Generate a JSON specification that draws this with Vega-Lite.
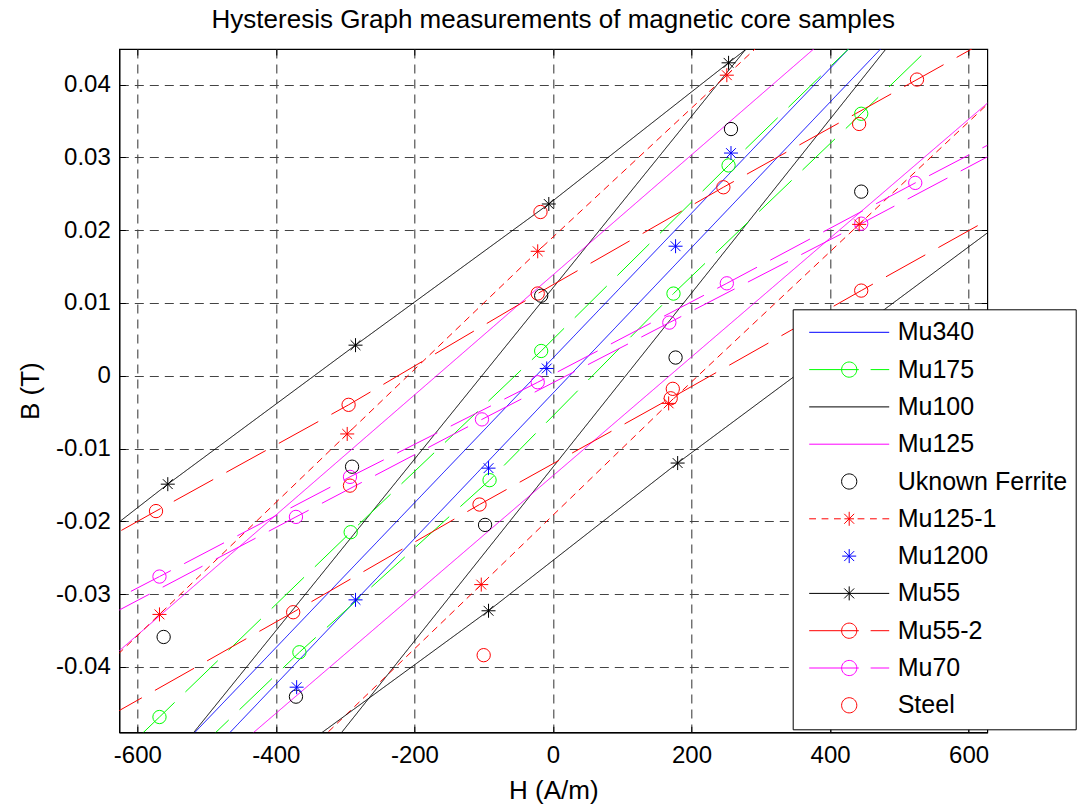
{
  "$schema": "https://vega.github.io/schema/vega-lite/v6.json",
  "autosize": {"type": "none"},
  "padding": {"left": 119.3, "top": 49, "right": 89.7, "bottom": 72.7},
  "width": 868,
  "height": 683.3,
  "background": "white",
  "title": {"text": "Hysteresis Graph measurements of magnetic core samples", "fontSize": 26, "font": "Liberation Sans", "fontWeight": "normal", "color": "black", "anchor": "middle", "offset": 16},
  "datasets": {
    "d": [
      {"s": "Mu340", "b": "A", "h": -560, "v": -0.0533},
      {"s": "Mu340", "b": "A", "h": 460, "v": 0.0482},
      {"s": "Mu340", "b": "B", "h": -520, "v": -0.0544},
      {"s": "Mu340", "b": "B", "h": 510, "v": 0.0486},
      {"s": "Mu100", "b": "A", "h": -560, "v": -0.0539},
      {"s": "Mu100", "b": "A", "h": 310, "v": 0.0486},
      {"s": "Mu100", "b": "B", "h": -340, "v": -0.0532},
      {"s": "Mu100", "b": "B", "h": 520, "v": 0.0496},
      {"s": "Mu125", "b": "A", "h": -700, "v": -0.0439},
      {"s": "Mu125", "b": "A", "h": 420, "v": 0.0485},
      {"s": "Mu125", "b": "B", "h": -460, "v": -0.0513},
      {"s": "Mu125", "b": "B", "h": 700, "v": 0.0434},
      {"s": "Mu175", "b": "U", "h": -843, "v": -0.072},
      {"s": "Mu175", "b": "U", "h": -568, "v": -0.0469},
      {"s": "Mu175", "b": "U", "h": -292, "v": -0.0215},
      {"s": "Mu175", "b": "U", "h": -17, "v": 0.0034},
      {"s": "Mu175", "b": "U", "h": 253.5, "v": 0.0289},
      {"s": "Mu175", "b": "U", "h": 525, "v": 0.054},
      {"s": "Mu175", "b": "L", "h": -640, "v": -0.063},
      {"s": "Mu175", "b": "L", "h": -366, "v": -0.038},
      {"s": "Mu175", "b": "L", "h": -91.5, "v": -0.01435},
      {"s": "Mu175", "b": "L", "h": 174, "v": 0.01129},
      {"s": "Mu175", "b": "L", "h": 445, "v": 0.036},
      {"s": "Mu175", "b": "L", "h": 716, "v": 0.061},
      {"s": "Mu125-1", "b": "U", "h": -840, "v": -0.0577},
      {"s": "Mu125-1", "b": "U", "h": -568, "v": -0.0328},
      {"s": "Mu125-1", "b": "U", "h": -297, "v": -0.008},
      {"s": "Mu125-1", "b": "U", "h": -22, "v": 0.0171},
      {"s": "Mu125-1", "b": "U", "h": 251, "v": 0.0413},
      {"s": "Mu125-1", "b": "U", "h": 525, "v": 0.0655},
      {"s": "Mu125-1", "b": "L", "h": -374, "v": -0.0535},
      {"s": "Mu125-1", "b": "L", "h": -103.5, "v": -0.0287},
      {"s": "Mu125-1", "b": "L", "h": 167, "v": -0.0038},
      {"s": "Mu125-1", "b": "L", "h": 442, "v": 0.0208},
      {"s": "Mu125-1", "b": "L", "h": 717, "v": 0.0453},
      {"s": "Mu55", "b": "U", "h": -830, "v": -0.0352},
      {"s": "Mu55", "b": "U", "h": -556, "v": -0.0149},
      {"s": "Mu55", "b": "U", "h": -285, "v": 0.0042},
      {"s": "Mu55", "b": "U", "h": -6, "v": 0.0236},
      {"s": "Mu55", "b": "U", "h": 253.5, "v": 0.043},
      {"s": "Mu55", "b": "U", "h": 525, "v": 0.063},
      {"s": "Mu55", "b": "L", "h": -366, "v": -0.0513},
      {"s": "Mu55", "b": "L", "h": -93, "v": -0.0323},
      {"s": "Mu55", "b": "L", "h": 180, "v": -0.012},
      {"s": "Mu55", "b": "L", "h": 453, "v": 0.0073},
      {"s": "Mu55", "b": "L", "h": 727, "v": 0.0267},
      {"s": "Mu55-2", "b": "U", "h": -850, "v": -0.0333},
      {"s": "Mu55-2", "b": "U", "h": -573, "v": -0.0186},
      {"s": "Mu55-2", "b": "U", "h": -295, "v": -0.004},
      {"s": "Mu55-2", "b": "U", "h": -22, "v": 0.0113},
      {"s": "Mu55-2", "b": "U", "h": 246, "v": 0.0259},
      {"s": "Mu55-2", "b": "U", "h": 525.5, "v": 0.0407},
      {"s": "Mu55-2", "b": "U", "h": 800, "v": 0.0553},
      {"s": "Mu55-2", "b": "L", "h": -650, "v": -0.0473},
      {"s": "Mu55-2", "b": "L", "h": -375, "v": -0.0325},
      {"s": "Mu55-2", "b": "L", "h": -106, "v": -0.0177},
      {"s": "Mu55-2", "b": "L", "h": 170, "v": -0.0031},
      {"s": "Mu55-2", "b": "L", "h": 445, "v": 0.0117},
      {"s": "Mu55-2", "b": "L", "h": 720, "v": 0.0263},
      {"s": "Mu70", "b": "U", "h": -840, "v": -0.041},
      {"s": "Mu70", "b": "U", "h": -568, "v": -0.0276},
      {"s": "Mu70", "b": "U", "h": -293, "v": -0.0139},
      {"s": "Mu70", "b": "U", "h": -22, "v": -0.0009},
      {"s": "Mu70", "b": "U", "h": 251, "v": 0.0127},
      {"s": "Mu70", "b": "U", "h": 523, "v": 0.0265},
      {"s": "Mu70", "b": "U", "h": 795, "v": 0.04},
      {"s": "Mu70", "b": "L", "h": -640, "v": -0.0329},
      {"s": "Mu70", "b": "L", "h": -371, "v": -0.0194},
      {"s": "Mu70", "b": "L", "h": -102.5, "v": -0.006},
      {"s": "Mu70", "b": "L", "h": 168, "v": 0.0073},
      {"s": "Mu70", "b": "L", "h": 445, "v": 0.0209},
      {"s": "Mu70", "b": "L", "h": 715, "v": 0.0345},
      {"s": "Uknown Ferrite", "b": "P", "h": -562, "v": -0.0359},
      {"s": "Uknown Ferrite", "b": "P", "h": -371, "v": -0.0441},
      {"s": "Uknown Ferrite", "b": "P", "h": -290, "v": -0.0125},
      {"s": "Uknown Ferrite", "b": "P", "h": -98, "v": -0.0205},
      {"s": "Uknown Ferrite", "b": "P", "h": -17, "v": 0.011},
      {"s": "Uknown Ferrite", "b": "P", "h": 177, "v": 0.0025},
      {"s": "Uknown Ferrite", "b": "P", "h": 257, "v": 0.0339},
      {"s": "Uknown Ferrite", "b": "P", "h": 445, "v": 0.0253},
      {"s": "Mu1200", "b": "P", "h": -370, "v": -0.0428},
      {"s": "Mu1200", "b": "P", "h": -285, "v": -0.0308},
      {"s": "Mu1200", "b": "P", "h": -93, "v": -0.0127},
      {"s": "Mu1200", "b": "P", "h": -9, "v": 0.001},
      {"s": "Mu1200", "b": "P", "h": 177, "v": 0.0178},
      {"s": "Mu1200", "b": "P", "h": 257, "v": 0.0306},
      {"s": "Steel", "b": "P", "h": -293, "v": -0.0151},
      {"s": "Steel", "b": "P", "h": -100, "v": -0.0384},
      {"s": "Steel", "b": "P", "h": -18, "v": 0.0225},
      {"s": "Steel", "b": "P", "h": 173, "v": -0.0018},
      {"s": "Steel", "b": "P", "h": 442, "v": 0.0346}
    ]
  },
  "data": {"name": "d"},
  "layer": [
    {
      "transform": [{"filter": {"field": "s", "oneOf": ["Mu340", "Mu100", "Mu125", "Mu175", "Mu125-1", "Mu55", "Mu55-2", "Mu70"]}}],
      "mark": {"type": "line", "clip": true, "strokeWidth": 1},
      "encoding": {
        "x": {"field": "h", "type": "quantitative", "scale": {"domain": [-626, 627], "nice": false, "zero": false},
          "axis": {"title": "H (A/m)", "values": [-600, -400, -200, 0, 200, 400, 600], "labelExpr": "replace(datum.label, '−', '-')", "labelPadding": 17, "titlePadding": 10}},
        "y": {"field": "v", "type": "quantitative", "scale": {"domain": [-0.049, 0.0449], "nice": false, "zero": false},
          "axis": {"title": "B (T)", "values": [-0.04, -0.03, -0.02, -0.01, 0, 0.01, 0.02, 0.03, 0.04], "format": ".2~f", "labelExpr": "replace(datum.label, '−', '-')", "labelPadding": 15, "titlePadding": 12}},
        "color": {"field": "s", "type": "nominal", "legend": null,
          "scale": {"domain": ["Mu340", "Mu175", "Mu100", "Mu125", "Uknown Ferrite", "Mu125-1", "Mu1200", "Mu55", "Mu55-2", "Mu70", "Steel"],
                    "range": ["#0000ff", "#00ff00", "#000000", "#ff00ff", "#000000", "#ff0000", "#0000ff", "#000000", "#ff0000", "#ff00ff", "#ff0000"]}},
        "strokeDash": {"field": "s", "type": "nominal", "legend": null,
          "scale": {"domain": ["Mu340", "Mu175", "Mu100", "Mu125", "Uknown Ferrite", "Mu125-1", "Mu1200", "Mu55", "Mu55-2", "Mu70", "Steel"],
                    "range": [[1, 0], [45, 15], [1, 0], [1, 0], [1, 0], [7, 5], [1, 0], [1, 0], [45, 15], [45, 15], [1, 0]]}},
        "detail": {"field": "b"},
        "order": {"field": "h", "type": "quantitative"}
      }
    },
    {
      "transform": [{"filter": {"field": "s", "oneOf": ["Mu175", "Mu55-2", "Mu70", "Uknown Ferrite", "Steel"]}}],
      "mark": {"type": "point", "shape": "circle", "filled": false, "size": 177, "strokeWidth": 1, "clip": true, "opacity": 1},
      "encoding": {
        "x": {"field": "h", "type": "quantitative", "scale": {"domain": [-626, 627], "nice": false, "zero": false}, "axis": null},
        "y": {"field": "v", "type": "quantitative", "scale": {"domain": [-0.049, 0.0449], "nice": false, "zero": false}, "axis": null},
        "color": {"field": "s", "type": "nominal", "legend": null}
      }
    },
    {
      "transform": [{"filter": {"field": "s", "oneOf": ["Mu125-1", "Mu55", "Mu1200"]}}],
      "mark": {"type": "point", "shape": "M-1,0L1,0M0,-1L0,1M-0.7,-0.7L0.7,0.7M-0.7,0.7L0.7,-0.7", "filled": false, "size": 196, "strokeWidth": 1, "clip": true, "opacity": 1},
      "encoding": {
        "x": {"field": "h", "type": "quantitative", "scale": {"domain": [-626, 627], "nice": false, "zero": false}, "axis": null},
        "y": {"field": "v", "type": "quantitative", "scale": {"domain": [-0.049, 0.0449], "nice": false, "zero": false}, "axis": null},
        "color": {"field": "s", "type": "nominal", "legend": null}
      }
    },
    {
      "mark": {"type": "point", "filled": false, "opacity": 0, "clip": true},
      "encoding": {
        "x": {"field": "h", "type": "quantitative", "scale": {"domain": [-626, 627], "nice": false, "zero": false},
          "axis": {"orient": "top", "values": [-600, -400, -200, 0, 200, 400, 600], "labels": false, "grid": false, "domain": false, "title": null}},
        "y": {"field": "v", "type": "quantitative", "scale": {"domain": [-0.049, 0.0449], "nice": false, "zero": false},
          "axis": {"orient": "right", "values": [-0.04, -0.03, -0.02, -0.01, 0, 0.01, 0.02, 0.03, 0.04], "labels": false, "grid": false, "domain": false, "title": null}},
        "color": {"field": "s", "type": "nominal",
          "legend": {"orient": "none", "legendX": 673.4, "legendY": 260.3, "title": null, "symbolSize": 6400, "symbolStrokeWidth": 1, "symbolOpacity": 1, "clipHeight": 30, "rowPadding": 7.3, "padding": 8, "symbolOffset": 8, "labelOffset": 8, "labelFontSize": 25, "labelFont": "Liberation Sans", "labelColor": "black", "strokeColor": "black", "fillColor": "white", "labelExpr": "datum.label + '        '", "labelLimit": 400}},
        "shape": {"field": "s", "type": "nominal",
          "scale": {"domain": ["Mu340", "Mu175", "Mu100", "Mu125", "Uknown Ferrite", "Mu125-1", "Mu1200", "Mu55", "Mu55-2", "Mu70", "Steel"],
                    "range": [
                      "M-1,0L1,0",
                      "M-1,0L0.24,0M0.536,0L1,0M-0.19,0A0.19,0.19,0,1,1,0.19,0A0.19,0.19,0,1,1,-0.19,0",
                      "M-1,0L1,0",
                      "M-1,0L1,0",
                      "M-0.19,0A0.19,0.19,0,1,1,0.19,0A0.19,0.19,0,1,1,-0.19,0",
                      "M-1,0L-0.83,0M-0.69,0L-0.52,0M-0.38,0L-0.21,0M-0.12,0L0.12,0M0.21,0L0.38,0M0.52,0L0.69,0M0.83,0L1,0M0,-0.175L0,0.175M-0.124,-0.124L0.124,0.124M-0.124,0.124L0.124,-0.124",
                      "M-0.175,0L0.175,0M0,-0.175L0,0.175M-0.124,-0.124L0.124,0.124M-0.124,0.124L0.124,-0.124",
                      "M-1,0L1,0M0,-0.175L0,0.175M-0.124,-0.124L0.124,0.124M-0.124,0.124L0.124,-0.124",
                      "M-1,0L0.24,0M0.536,0L1,0M-0.19,0A0.19,0.19,0,1,1,0.19,0A0.19,0.19,0,1,1,-0.19,0",
                      "M-1,0L0.24,0M0.536,0L1,0M-0.19,0A0.19,0.19,0,1,1,0.19,0A0.19,0.19,0,1,1,-0.19,0",
                      "M-0.19,0A0.19,0.19,0,1,1,0.19,0A0.19,0.19,0,1,1,-0.19,0"
                    ]},
          "legend": {"orient": "none", "legendX": 673.4, "legendY": 260.3, "title": null, "symbolSize": 6400, "symbolStrokeWidth": 1, "symbolOpacity": 1, "clipHeight": 30, "rowPadding": 7.3, "padding": 8, "symbolOffset": 8, "labelOffset": 8, "labelFontSize": 25, "labelFont": "Liberation Sans", "labelColor": "black", "strokeColor": "black", "fillColor": "white", "labelExpr": "datum.label + '        '", "labelLimit": 400}}
      }
    }
  ],
  "resolve": {"axis": {"x": "independent", "y": "independent"}, "legend": {"color": "independent", "shape": "independent"}},
  "config": {
    "font": "Liberation Sans",
    "view": {"stroke": "black", "strokeWidth": 1.2},
    "axis": {
      "grid": true, "gridDash": [9, 6], "gridColor": "#444444", "gridWidth": 1.1, "gridOpacity": 1,
      "domainColor": "black", "domainWidth": 1.2, "tickColor": "black", "tickSize": -6, "tickWidth": 1,
      "labelFontSize": 24, "labelFont": "Liberation Sans", "labelColor": "black", "labelFlush": false, "labelOverlap": false,
      "titleFontSize": 26, "titleFont": "Liberation Sans", "titleFontWeight": "normal", "titleColor": "black"
    },
    "legend": {"symbolStrokeWidth": 1}
  }
}
